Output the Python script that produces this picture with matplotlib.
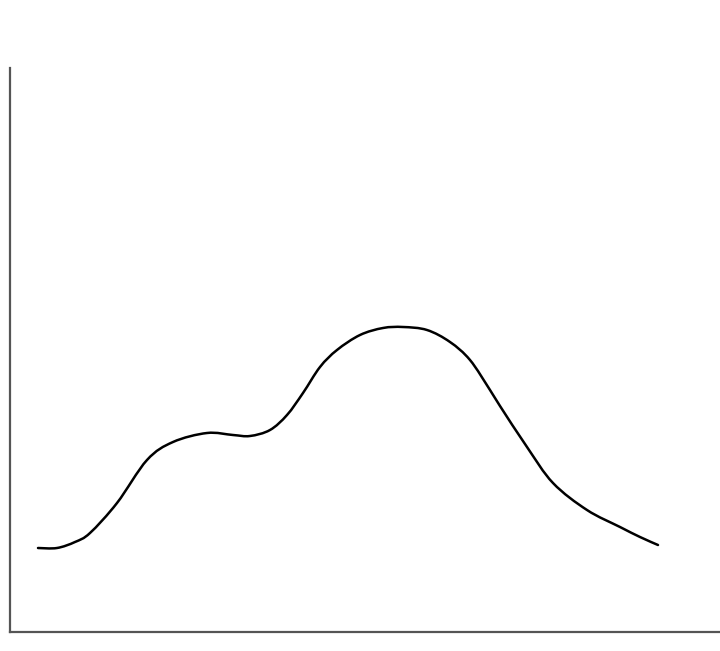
import matplotlib
matplotlib.use('Agg')
import matplotlib.pyplot as plt
from matplotlib.path import Path
from matplotlib.patches import PathPatch

# Kurve (x nach rechts, y = Hoehe ueber der x-Achse)
x = [38, 57, 75, 90, 117, 147, 173, 207, 233, 250, 270, 287, 303, 320, 337,
     360, 383, 403, 427, 450, 470, 490, 500, 527, 553, 587, 620, 640, 658]
y = [84, 84, 90, 99, 129, 172, 190, 199, 197, 196, 202, 217, 239, 265, 282,
     297, 304, 305, 302, 290, 272, 242, 226, 185, 149, 122, 105, 95, 87]

fig = plt.figure(figsize=(7.2, 6.51), dpi=100)
ax = fig.add_axes([10/720, 19/651, 710/720, 564/651])

# glatte Linie durch die Punkte (Catmull-Rom als Bezier-Pfad)
pts = list(zip(x, y))
verts = [pts[0]]
codes = [Path.MOVETO]
for i in range(len(pts) - 1):
    p0 = pts[i - 1] if i > 0 else pts[i]
    p1 = pts[i]
    p2 = pts[i + 1]
    p3 = pts[i + 2] if i + 2 < len(pts) else pts[i + 1]
    c1 = (p1[0] + (p2[0] - p0[0]) / 6, p1[1] + (p2[1] - p0[1]) / 6)
    c2 = (p2[0] - (p3[0] - p1[0]) / 6, p2[1] - (p3[1] - p1[1]) / 6)
    verts += [c1, c2, p2]
    codes += [Path.CURVE4] * 3
ax.add_patch(PathPatch(Path(verts, codes), facecolor='none', edgecolor='black',
                       linewidth=1.8, capstyle='round', joinstyle='round'))

ax.set_xlim(10, 720)
ax.set_ylim(0, 564)
ax.set_xticks([])
ax.set_yticks([])
for side in ['top', 'right']:
    ax.spines[side].set_visible(False)
for side in ['left', 'bottom']:
    ax.spines[side].set_color('#555555')
    ax.spines[side].set_linewidth(1.6)

fig.savefig("out.png", dpi=100)
